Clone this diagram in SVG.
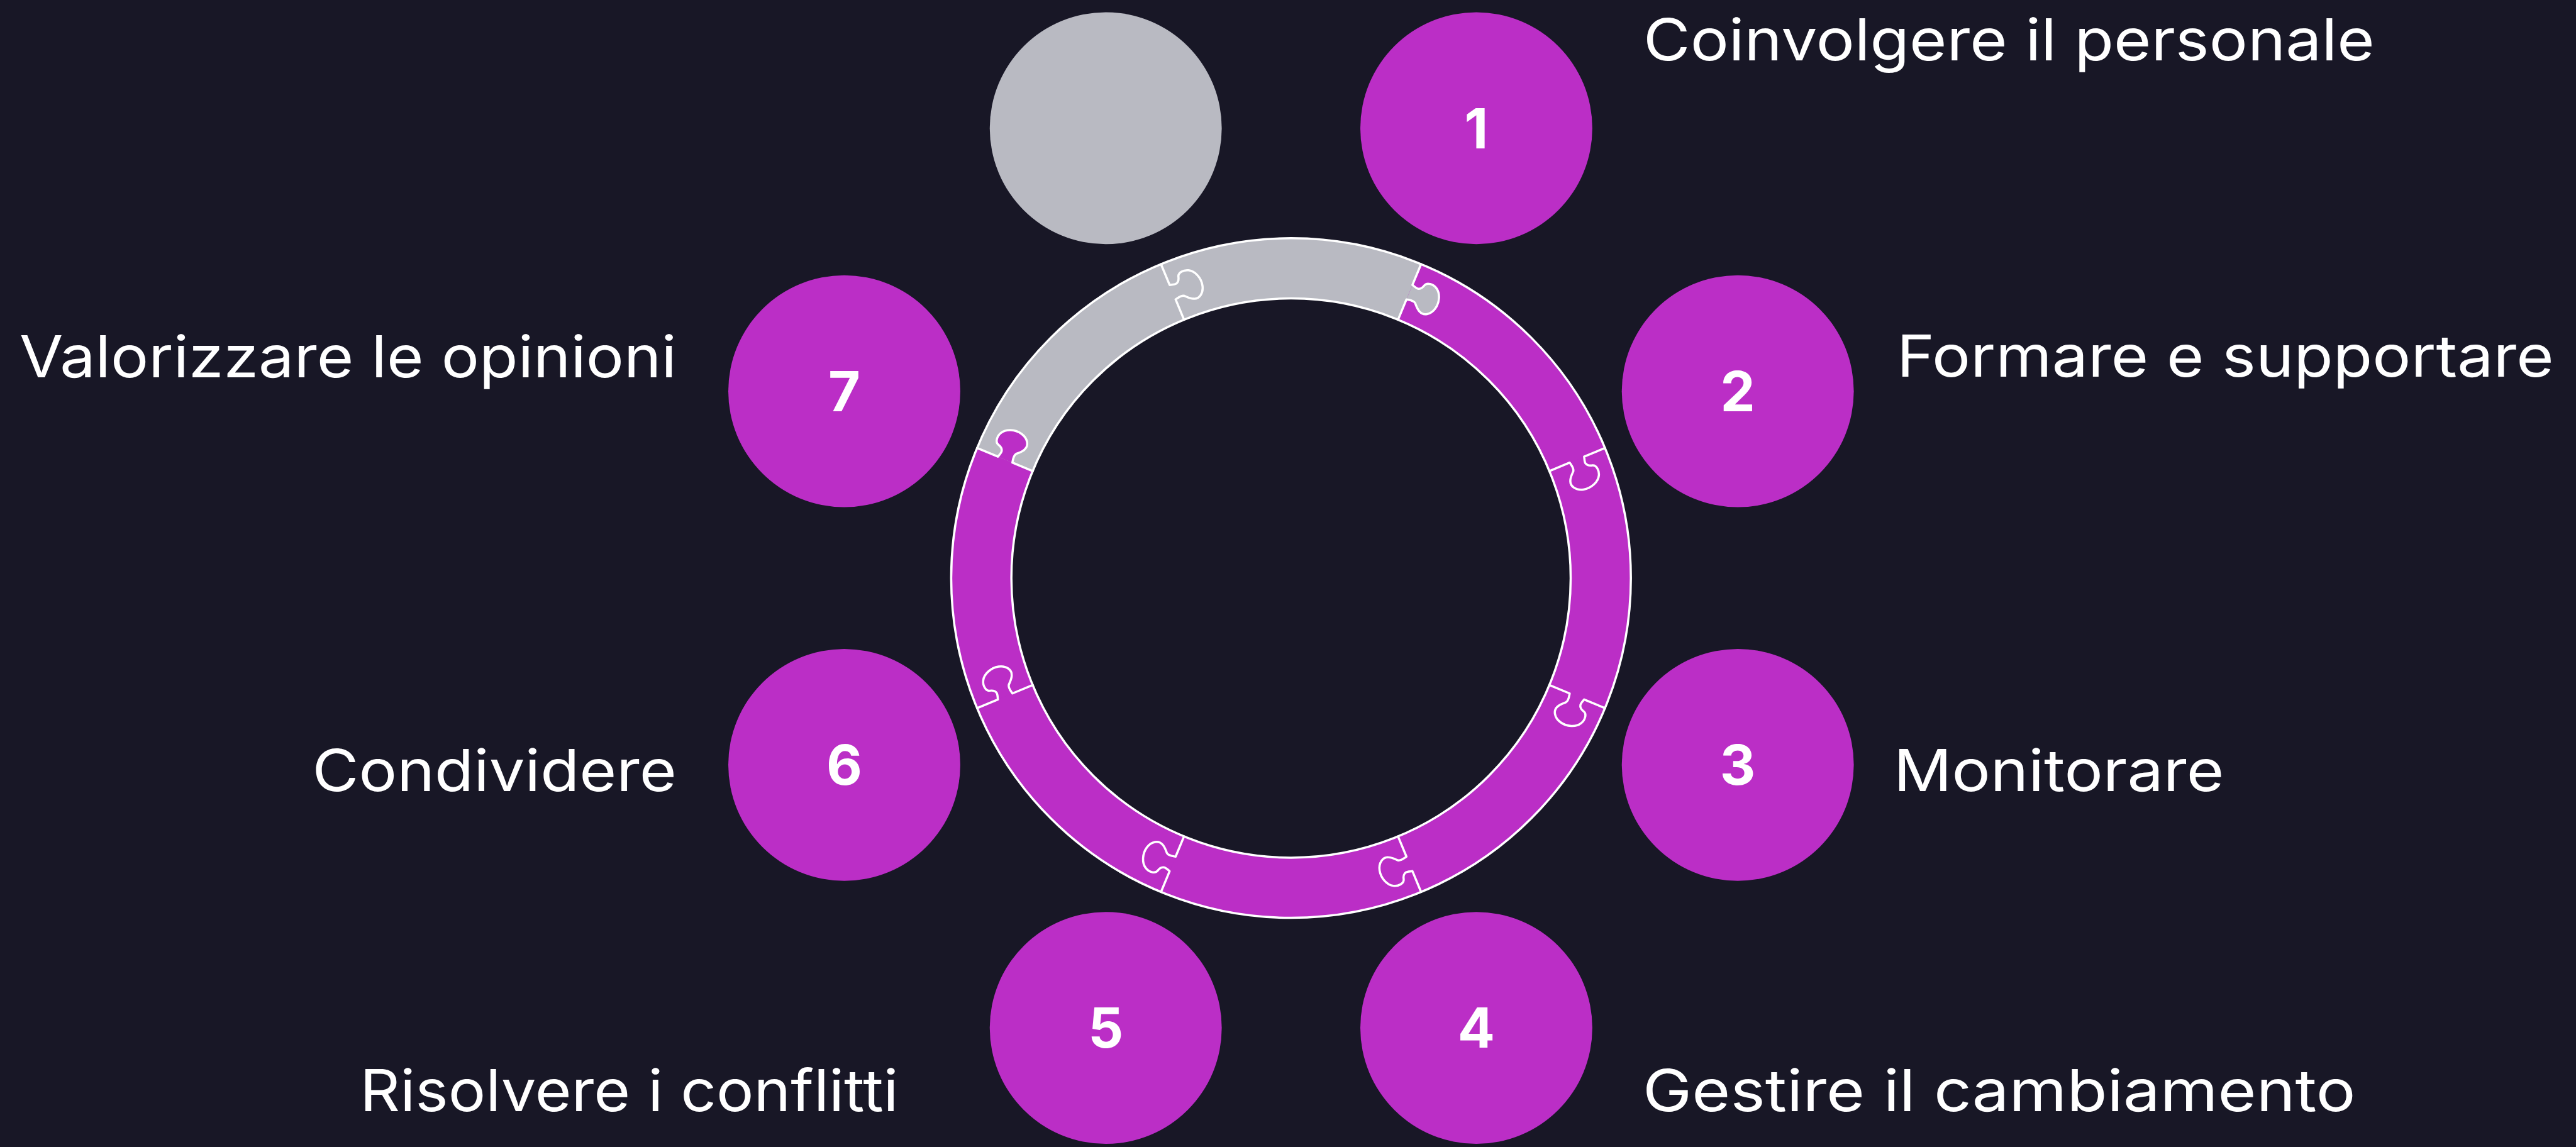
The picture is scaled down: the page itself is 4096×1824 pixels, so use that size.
<svg xmlns="http://www.w3.org/2000/svg" xmlns:xlink="http://www.w3.org/1999/xlink" width="4096" height="1824" viewBox="0 0 4096 1824">
<style>
.bg{fill:#181726}
.pc{fill:#BB2EC6}
.gc{fill:#B9BAC2}
.edge{fill:none;stroke:#FFFFFF;stroke-width:3.5;stroke-linejoin:round;stroke-linecap:round}
.num{font-family:"Inter","Liberation Sans",sans-serif;font-weight:700;font-size:88px;fill:#FFFFFF;text-anchor:middle}
.lbl{font-family:"Inter","Liberation Sans",sans-serif;font-weight:400;font-size:92px;fill:#FFFFFF}
</style>
<defs>
<path id="knobFill" d="M 506 0 C 505 4 503 8 504 11 C 505 15 509 17 513 18 C 519 20 520 30 516 37 C 511 46 497 51 485 48 C 473 45 467 35 471 27 C 473 22 478 18 481 15 C 484 11 482 5 481 0 Z"/>
<path id="joint" d="M 542 0 L 506 0 C 505 4 503 8 504 11 C 505 15 509 17 513 18 C 519 20 520 30 516 37 C 511 46 497 51 485 48 C 473 45 467 35 471 27 C 473 22 478 18 481 15 C 484 11 482 5 481 0 L 446 0"/>
</defs>
<rect class="bg" x="0" y="0" width="4096" height="1824"/>
<g transform="scale(0.997)">
<g id="ring">
<circle cx="2059" cy="922" r="494" fill="none" stroke="#BB2EC6" stroke-width="96"/>
<path class="gc" d="M 1558.26 714.59 A 542 542 0 0 1 2266.41 421.26 L 2229.68 509.95 A 446 446 0 0 0 1646.95 751.32 Z"/>
<g transform="translate(2059,922)">
<use xlink:href="#knobFill" class="gc" transform="rotate(-67.5)"/>
<use xlink:href="#knobFill" class="pc" transform="rotate(-22.5)"/>
<use xlink:href="#knobFill" class="pc" transform="rotate(22.5)"/>
<use xlink:href="#knobFill" class="pc" transform="rotate(67.5)"/>
<use xlink:href="#knobFill" class="pc" transform="rotate(112.5)"/>
<use xlink:href="#knobFill" class="pc" transform="rotate(157.5)"/>
<use xlink:href="#knobFill" class="pc" transform="rotate(202.5)"/>
<use xlink:href="#knobFill" class="gc" transform="rotate(247.5)"/>
</g>
</g>
<g id="connectors">
<circle class="edge" cx="2059" cy="922" r="542"/>
<circle class="edge" cx="2059" cy="922" r="446"/>
<g transform="translate(2059,922)">
<use xlink:href="#joint" class="edge" transform="rotate(-67.5)"/>
<use xlink:href="#joint" class="edge" transform="rotate(-22.5)"/>
<use xlink:href="#joint" class="edge" transform="rotate(22.5)"/>
<use xlink:href="#joint" class="edge" transform="rotate(67.5)"/>
<use xlink:href="#joint" class="edge" transform="rotate(112.5)"/>
<use xlink:href="#joint" class="edge" transform="rotate(157.5)"/>
<use xlink:href="#joint" class="edge" transform="rotate(202.5)"/>
<use xlink:href="#joint" class="edge" transform="rotate(247.5)"/>
</g>
</g>
<g id="node-0">
<circle class="gc" cx="1763.5" cy="204.5" r="185"/>
</g>
<g id="node-1">
<circle class="pc" cx="2354.5" cy="204.5" r="185"/>
<text class="num" x="2354.5" y="236.5">1</text>
<text class="lbl" x="2621" y="96" textLength="1166" lengthAdjust="spacingAndGlyphs">Coinvolgere il personale</text>
</g>
<g id="node-2">
<circle class="pc" cx="2771.5" cy="624" r="185"/>
<text class="num" x="2771.5" y="656">2</text>
<text class="lbl" x="3025" y="601" textLength="1048" lengthAdjust="spacingAndGlyphs">Formare e supportare</text>
</g>
<g id="node-3">
<circle class="pc" cx="2771.5" cy="1220" r="185"/>
<text class="num" x="2771.5" y="1252">3</text>
<text class="lbl" x="3020" y="1262" textLength="527" lengthAdjust="spacingAndGlyphs">Monitorare</text>
</g>
<g id="node-4">
<circle class="pc" cx="2354.5" cy="1639.5" r="185"/>
<text class="num" x="2354.5" y="1671.5">4</text>
<text class="lbl" x="2620" y="1772" textLength="1137" lengthAdjust="spacingAndGlyphs">Gestire il cambiamento</text>
</g>
<g id="node-5">
<circle class="pc" cx="1763.5" cy="1639.5" r="185"/>
<text class="num" x="1763.5" y="1671.5">5</text>
<text class="lbl" x="574" y="1772" textLength="859" lengthAdjust="spacingAndGlyphs">Risolvere i conflitti</text>
</g>
<g id="node-6">
<circle class="pc" cx="1346.5" cy="1220" r="185"/>
<text class="num" x="1346.5" y="1252">6</text>
<text class="lbl" x="498" y="1262" textLength="581" lengthAdjust="spacingAndGlyphs">Condividere</text>
</g>
<g id="node-7">
<circle class="pc" cx="1346.5" cy="624" r="185"/>
<text class="num" x="1346.5" y="656">7</text>
<text class="lbl" x="31" y="602" textLength="1048" lengthAdjust="spacingAndGlyphs">Valorizzare le opinioni</text>
</g>
</g>
</svg>
